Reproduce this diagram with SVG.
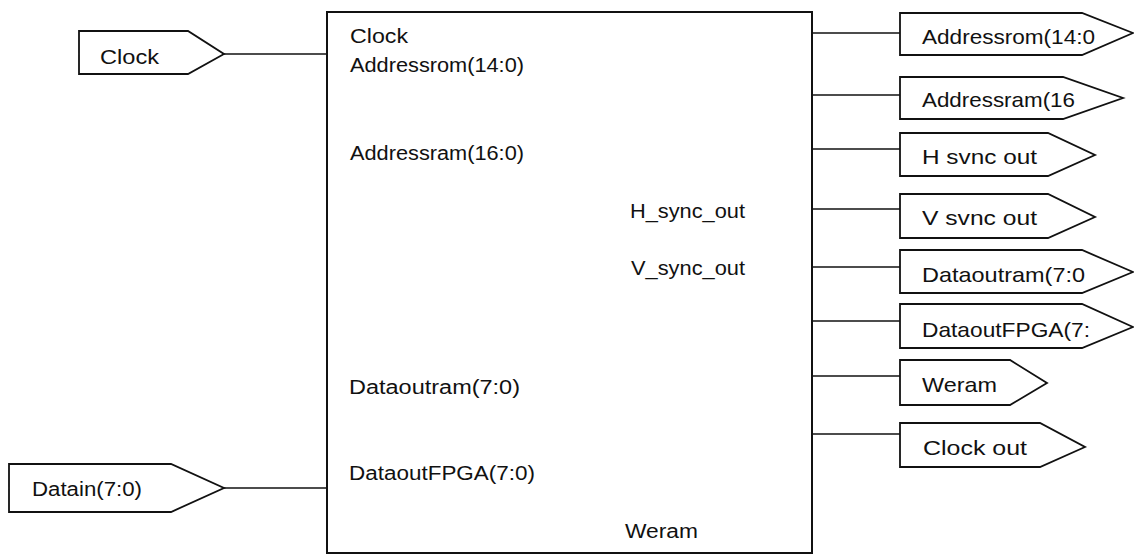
<svg xmlns="http://www.w3.org/2000/svg" width="1134" height="555" viewBox="0 0 1134 555">
<style>
.shape{fill:#fff;stroke:#111;stroke-width:1.8;stroke-linejoin:miter}
.box{fill:none;stroke:#111;stroke-width:2}
.wire{fill:none;stroke:#111;stroke-width:1.6}
text{font-family:"Liberation Sans",Arial,sans-serif;font-size:20px;fill:#111}
.o{font-size:21px}
</style>
<rect width="1134" height="555" fill="#fff"/>
<g id="connectors">
<line class="wire" x1="224" y1="54" x2="327" y2="54"/>
<line class="wire" x1="224" y1="488" x2="327" y2="488"/>
<line class="wire" x1="812" y1="33" x2="900" y2="33"/>
<line class="wire" x1="812" y1="95" x2="900" y2="95"/>
<line class="wire" x1="812" y1="149" x2="900" y2="149"/>
<line class="wire" x1="812" y1="209" x2="900" y2="209"/>
<line class="wire" x1="812" y1="267" x2="900" y2="267"/>
<line class="wire" x1="812" y1="321" x2="900" y2="321"/>
<line class="wire" x1="812" y1="376" x2="900" y2="376"/>
<line class="wire" x1="812" y1="434" x2="900" y2="434"/>
</g>
<g id="main">
<rect class="box" x="327" y="12" width="485" height="541"/>
<text x="350" y="43" textLength="58" lengthAdjust="spacingAndGlyphs">Clock</text>
<text x="350" y="72" textLength="174" lengthAdjust="spacingAndGlyphs">Addressrom(14:0)</text>
<text x="350" y="160" textLength="174" lengthAdjust="spacingAndGlyphs">Addressram(16:0)</text>
<text x="630" y="218" textLength="115" lengthAdjust="spacingAndGlyphs">H_sync_out</text>
<text x="631" y="275" textLength="114" lengthAdjust="spacingAndGlyphs">V_sync_out</text>
<text x="349" y="394" textLength="171" lengthAdjust="spacingAndGlyphs">Dataoutram(7:0)</text>
<text x="349" y="480" textLength="186" lengthAdjust="spacingAndGlyphs">DataoutFPGA(7:0)</text>
<text x="625" y="538" textLength="73" lengthAdjust="spacingAndGlyphs">Weram</text>
</g>
<g id="in-clock">
<polygon class="shape" points="79,31 188,31 224,54 188,74 79,74"/>
<text x="100" y="64" textLength="59" lengthAdjust="spacingAndGlyphs">Clock</text>
</g>
<g id="in-datain">
<polygon class="shape" points="9,464 171,464 224,488 171,512 9,512"/>
<text x="32" y="496" textLength="110" lengthAdjust="spacingAndGlyphs">Datain(7:0)</text>
</g>
<g id="out-addressrom">
<polygon class="shape" points="900,13 1082,13 1133,33 1082,55 900,55"/>
<text class="o" x="922" y="44" textLength="173" lengthAdjust="spacingAndGlyphs">Addressrom(14:0</text>
</g>
<g id="out-addressram">
<polygon class="shape" points="900,77 1063,77 1123,98 1063,119 900,119"/>
<text class="o" x="922" y="107" textLength="153" lengthAdjust="spacingAndGlyphs">Addressram(16</text>
</g>
<g id="out-hsync">
<polygon class="shape" points="900,133 1048,133 1095,155 1048,176 900,176"/>
<text class="o" x="922" y="164" textLength="115" lengthAdjust="spacingAndGlyphs">H  svnc  out</text>
</g>
<g id="out-vsync">
<polygon class="shape" points="900,194 1048,194 1095,217 1048,238 900,238"/>
<text class="o" x="922" y="225" textLength="115" lengthAdjust="spacingAndGlyphs">V  svnc  out</text>
</g>
<g id="out-dataoutram">
<polygon class="shape" points="900,250 1082,250 1133,272 1082,293 900,293"/>
<text class="o" x="922" y="282" textLength="163" lengthAdjust="spacingAndGlyphs">Dataoutram(7:0</text>
</g>
<g id="out-dataoutfpga">
<polygon class="shape" points="900,304 1082,304 1133,327 1082,348 900,348"/>
<text class="o" x="922" y="337" textLength="168" lengthAdjust="spacingAndGlyphs">DataoutFPGA(7:</text>
</g>
<g id="out-weram">
<polygon class="shape" points="900,360 1010,360 1047,383 1010,405 900,405"/>
<text class="o" x="922" y="392" textLength="75" lengthAdjust="spacingAndGlyphs">Weram</text>
</g>
<g id="out-clockout">
<polygon class="shape" points="900,423 1040,423 1085,447 1040,467 900,467"/>
<text class="o" x="923" y="455" textLength="104" lengthAdjust="spacingAndGlyphs">Clock  out</text>
</g>
</svg>
